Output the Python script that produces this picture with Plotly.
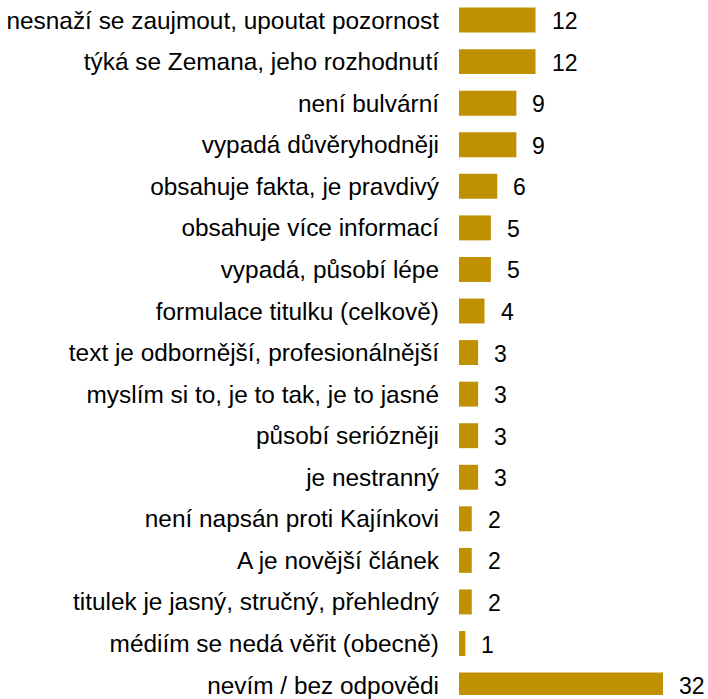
import plotly.graph_objects as go

# Reasons given for choosing the article (number of respondents)
categories = [
    "nesnaží se zaujmout, upoutat pozornost",
    "týká se Zemana, jeho rozhodnutí",
    "není bulvární",
    "vypadá důvěryhodněji",
    "obsahuje fakta, je pravdivý",
    "obsahuje více informací",
    "vypadá, působí lépe",
    "formulace titulku (celkově)",
    "text je odbornější, profesionálnější",
    "myslím si to, je to tak, je to jasné",
    "působí seriózněji",
    "je nestranný",
    "není napsán proti Kajínkovi",
    "A je novější článek",
    "titulek je jasný, stručný, přehledný",
    "médiím se nedá věřit (obecně)",
    "nevím / bez odpovědi",
]
counts = [12, 12, 9, 9, 6, 5, 5, 4, 3, 3, 3, 3, 2, 2, 2, 1, 32]

BAR_COLOR = "#BF9000"
FONT = "Arial, Liberation Sans, sans-serif"

fig = go.Figure(
    go.Bar(
        x=counts,
        y=categories,
        orientation="h",
        marker=dict(color=BAR_COLOR, line=dict(width=0)),
        hoverinfo="skip",
    )
)

# value labels to the right of each bar
for cat, val in zip(categories, counts):
    fig.add_annotation(
        x=val,
        y=cat,
        text=str(val),
        showarrow=False,
        xanchor="left",
        yanchor="middle",
        xshift=14,
        yshift=-1,
        font=dict(family=FONT, size=23, color="#000000"),
    )

fig.update_layout(
    width=708,
    height=699,
    margin=dict(l=459, r=0, t=0, b=0),
    paper_bgcolor="white",
    plot_bgcolor="white",
    bargap=0.4,
    showlegend=False,
    xaxis=dict(visible=False, range=[0, 39.06]),
    yaxis=dict(
        type="category",
        categoryorder="array",
        categoryarray=categories,
        range=[16.239, -0.483],
        showgrid=False,
        zeroline=False,
        showline=False,
        ticks="",
        ticklabelstandoff=19,
        tickfont=dict(family=FONT, size=24.4, color="#000000"),
    ),
)

fig.write_html("out.html")
